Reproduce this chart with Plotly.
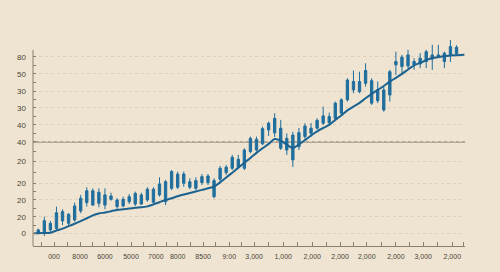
import plotly.graph_objects as go

# ---- data ----
idx = list(range(70))
opens = [0.1, 0.6, 1.4, 2.0, 5.5, 4.4, 5.9, 10.0, 13.8, 12.7, 13.5, 12.7, 15.3, 12.0, 12.3, 14.2, 13.2, 13.2, 15.0, 14.0,
         17.3, 14.2, 20.3, 20.8, 22.6, 20.8, 20.3, 22.9, 22.9, 16.5, 24.4, 27.4, 29.4, 30.1, 29.4, 37.0, 37.7, 40.5, 46.8, 45.5,
         38.5, 37.7, 33.2, 39.2, 43.8, 45.3, 47.6, 49.9, 50.1, 52.1, 54.4, 60.5, 65.0, 64.2, 68.0, 59.0, 60.1, 55.9, 62.7, 76.4,
         75.6, 75.9, 76.4, 76.8, 77.9, 79.0, 80.1, 77.9, 80.5, 81.4]
closes = [1.4, 5.6, 4.4, 9.2, 9.7, 8.5, 12.3, 15.8, 19.2, 19.2, 18.5, 17.3, 16.8, 15.0, 15.3, 16.5, 18.0, 17.3, 19.9, 19.9,
          22.3, 23.3, 27.9, 26.8, 26.8, 23.3, 23.8, 25.6, 25.9, 23.8, 29.4, 29.9, 34.4, 33.5, 37.7, 43.0, 42.6, 47.4, 49.9, 52.1,
          47.6, 43.0, 44.5, 45.6, 48.6, 47.6, 51.2, 53.2, 52.9, 59.0, 60.5, 69.5, 68.8, 68.8, 73.8, 69.2, 65.0, 65.0, 73.3, 77.9,
          79.9, 80.9, 77.9, 79.4, 82.4, 80.9, 80.9, 81.7, 84.7, 84.4]
highs = [2.0, 7.4, 5.5, 12.0, 10.8, 9.0, 13.8, 17.3, 20.8, 20.3, 20.3, 20.3, 18.3, 15.8, 16.5, 17.7, 18.8, 18.3, 20.8, 20.8,
         25.3, 24.1, 28.6, 27.9, 27.9, 24.9, 25.3, 26.8, 26.8, 24.9, 30.5, 30.9, 35.5, 35.5, 38.5, 43.8, 43.8, 48.3, 50.6, 54.4,
         51.4, 45.3, 46.0, 47.7, 49.9, 49.9, 52.1, 57.4, 54.7, 59.7, 61.2, 70.3, 73.8, 73.3, 77.1, 70.3, 68.8, 66.5, 74.1, 82.4,
         80.9, 83.2, 79.4, 81.7, 83.2, 85.5, 85.5, 82.4, 87.7, 85.3]
lows = [-0.1, -1.4, 0.6, 1.4, 3.6, 3.2, 5.1, 9.0, 12.0, 12.3, 11.7, 10.8, 14.7, 10.5, 11.7, 13.2, 12.3, 12.7, 14.2, 13.5,
        16.5, 12.7, 19.5, 19.9, 21.0, 19.9, 19.5, 21.8, 21.8, 15.8, 23.3, 26.4, 28.6, 29.0, 28.6, 36.2, 37.0, 40.0, 44.1, 43.6,
        37.7, 35.5, 30.0, 37.7, 42.6, 43.8, 47.1, 49.1, 49.5, 51.4, 53.2, 59.7, 63.5, 63.5, 66.5, 58.2, 59.0, 55.1, 59.7, 71.8,
        71.8, 74.9, 74.1, 74.9, 74.9, 74.1, 79.4, 74.9, 77.7, 80.9]
trend_x = [-0.7] + list(range(70)) + [70.3]
trend = [-0.1, -0.1, 0.0, 0.1, 1.1, 2.0, 3.1, 4.2, 5.4, 6.7, 8.0, 8.9, 9.3, 9.9, 10.5, 10.8, 11.1, 11.5, 11.7, 12.1, 13.0,
         14.0, 15.0, 15.8, 16.7, 17.5, 18.2, 18.9, 19.6, 20.3, 21.1, 23.0, 25.2, 27.4, 29.7, 31.9, 34.1, 36.4, 38.5, 40.5, 42.7,
         42.0, 40.1, 38.6, 40.2, 42.2, 44.3, 46.2, 47.7, 49.1, 51.4, 53.4, 55.7, 57.4, 59.1, 61.2, 63.2, 65.0, 66.8, 68.8, 70.5,
         72.3, 74.3, 76.2, 77.3, 78.5, 79.5, 79.9, 80.4, 80.6, 80.8, 81.0]

x_tickvals = [2.6, 6.9, 11.0, 15.3, 19.4, 23.0, 27.2, 31.5, 35.6, 40.4, 45.2, 49.8, 54.2, 59.0, 63.5, 68.3]
x_ticktext = ["000", "8000", "6000", "5000", "7000", "8000", "8500", "9:00", "3,000",
              "1,000", "2,000", "2,000", "2,000", "2,000", "3,000", "2,000"]
x_minor = [0.5, 4.75, 9.0, 13.1, 17.3, 21.2, 25.1, 29.3, 33.5, 38.0, 42.8, 47.5, 52.0, 56.6, 61.2, 65.9, 70.2]
y_tickvals = [80, 72.3, 64.5, 56.8, 49.1, 41.4, 32.7, 22.7, 15, 7.3, 0]
y_ticktext = ["80", "50", "30", "30", "40", "40", "20", "20", "20", "20", "0"]
y_minor = [76.1, 68.4, 60.6, 52.9, 45.2, 37.0, 27.7, 18.8, 11.1, 3.6]
ref_level = 41.4

BG = "#EEE4D1"
BLUE = "#1F6E9E"
LINE = "#1B6290"
AX = "#8A8070"

fig = go.Figure()
fig.add_trace(go.Candlestick(
    x=idx, open=opens, high=highs, low=lows, close=closes,
    increasing=dict(line=dict(color=BLUE, width=1), fillcolor=BLUE),
    decreasing=dict(line=dict(color=BLUE, width=1), fillcolor=BLUE),
    whiskerwidth=0, showlegend=False, hoverinfo="skip",
))
fig.add_trace(go.Scatter(
    x=trend_x, y=trend, mode="lines", line=dict(color=LINE, width=2, shape="spline", smoothing=0.6),
    showlegend=False, hoverinfo="skip",
))

fig.add_shape(type="line", xref="paper", x0=0, x1=1, yref="y", y0=ref_level, y1=ref_level,
              line=dict(color="#A09684", width=1.5), layer="below")
fig.add_shape(type="line", xref="paper", x0=0, x1=0, yref="y", y0=-5.9, y1=83.2,
              line=dict(color=AX, width=1), layer="above")

fig.update_layout(
    width=500, height=272,
    margin=dict(l=33, r=35, t=36, b=26),
    paper_bgcolor=BG, plot_bgcolor=BG,
    boxgap=0.45,
    font=dict(family="Liberation Sans, Arial, sans-serif", color="#4A4438"),
    xaxis=dict(
        range=[-0.87, 70.4], rangeslider=dict(visible=False),
        tickmode="array", tickvals=x_tickvals, ticktext=x_ticktext,
        showgrid=False, zeroline=False,
        showline=True, linecolor=AX, linewidth=1,
        ticks="inside", ticklen=4, tickcolor=AX, tickfont=dict(size=7),
        ticklabelstandoff=4,
        minor=dict(tickmode="array", tickvals=x_minor, ticks="inside", ticklen=4, tickcolor=AX, showgrid=False),
    ),
    yaxis=dict(
        range=[-5.9, 89.5],
        tickmode="array", tickvals=y_tickvals, ticktext=y_ticktext,
        showgrid=True, gridcolor="#DDD0B8", griddash="dot", gridwidth=1,
        zeroline=False, showline=False,
        ticks="inside", ticklen=3, tickcolor=AX, tickfont=dict(size=8),
        ticklabelstandoff=6,
        minor=dict(tickmode="array", tickvals=y_minor, ticks="inside", ticklen=3, tickcolor=AX, showgrid=False),
    ),
)

fig.write_html("out.html")
